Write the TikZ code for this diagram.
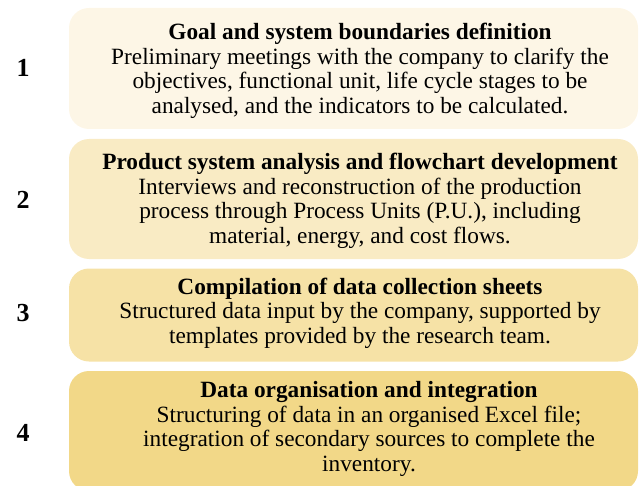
\documentclass[tikz,border=0pt]{standalone}
\usepackage{fontspec}
\setmainfont{Liberation Serif}
\usepackage{tikz}

\definecolor{stepA}{HTML}{FDF6E6}
\definecolor{stepB}{HTML}{F9EBC4}
\definecolor{stepC}{HTML}{F6E2A6}
\definecolor{stepD}{HTML}{F2D888}

\tikzset{
	stepbox/.style={rounded corners=20pt, minimum width=569pt, inner sep=0pt},
	steptext/.style={align=center, font=\fontsize{23.3}{24.6}\selectfont, inner sep=0pt},
	stepnum/.style={font=\fontsize{26}{26}\selectfont\bfseries}
}

\begin{document}
\begin{tikzpicture}[x=1pt,y=-1pt]
		\useasboundingbox (0,0) rectangle (639,486);
		\begin{scope}
		\clip (0,0) rectangle (639,486);
		\node[stepbox, fill=stepA, minimum height=121pt] (box1) at (353.5,68.5) {};
		\node[stepbox, fill=stepB, minimum height=120pt] (box2) at (353.5,199) {};
		\node[stepbox, fill=stepC, minimum height=93pt] (box3) at (353.5,315) {};
		\node[stepbox, fill=stepD, minimum height=120pt] (box4) at (353.5,431) {};
		\end{scope}
		% texts
		\node[steptext] (txt1) at (360,71) {\textbf{Goal and system boundaries definition}\\
			Preliminary meetings with the company to clarify the\\
			objectives, functional unit, life cycle stages to be\\
			analysed, and the indicators to be calculated.};
		\node[steptext] (txt2) at (360,201) {\textbf{Product system analysis and flowchart development}\\
			Interviews and reconstruction of the production\\
			process through Process Units (P.U.), including\\
			material, energy, and cost flows.};
		\node[steptext] (txt3) at (360,313) {\textbf{Compilation of data collection sheets}\\
			Structured data input by the company, supported by\\
			templates provided by the research team.};
		\node[steptext] (txt4) at (369,429) {\textbf{Data organisation and integration}\\
			Structuring of data in an organised Excel file;\\
			integration of secondary sources to complete the\\
			inventory.};
		% step numbers
		\foreach \n/\y in {1/68, 2/200, 3/313, 4/433}
		\node[stepnum] (num\n) at (23,\y) {\n};
	\end{tikzpicture}
\end{document}
